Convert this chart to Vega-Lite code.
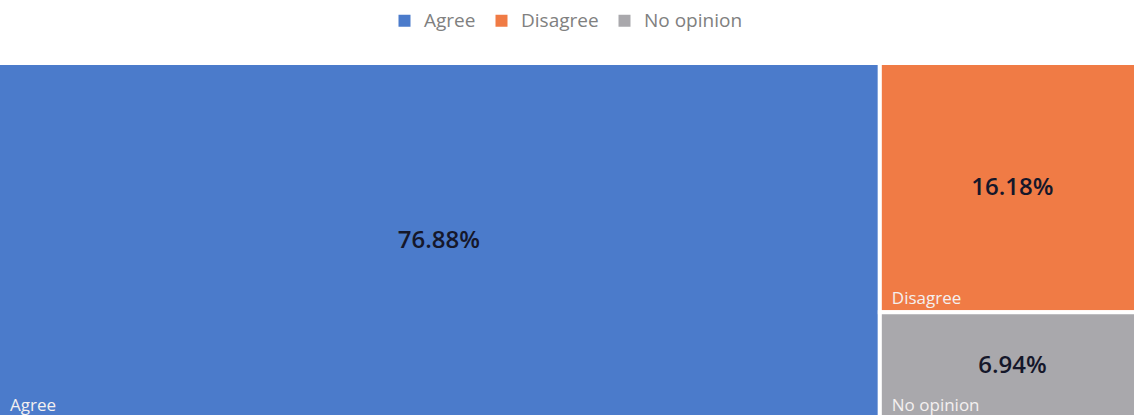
{
  "$schema": "https://vega.github.io/schema/vega-lite/v6.json",
  "autosize": "none",
  "width": 1147,
  "height": 356,
  "padding": {"top": 63, "left": -2, "right": 0, "bottom": 0},
  "background": "white",
  "config": {"view": {"stroke": null}},
  "data": {"values": [
    {"category": "Agree", "group": "A", "share": 0.7688},
    {"category": "Disagree", "group": "B", "share": 0.1618},
    {"category": "No opinion", "group": "B", "share": 0.0694}
  ]},
  "transform": [
    {"stack": "share", "groupby": [], "sort": [{"field": "group", "order": "ascending"}, {"field": "share", "order": "descending"}], "as": ["sx0", "sx1"]},
    {"joinaggregate": [{"op": "min", "field": "sx0", "as": "gx0"}, {"op": "max", "field": "sx1", "as": "gx1"}], "groupby": ["group"]},
    {"stack": "share", "groupby": ["group"], "offset": "normalize", "sort": [{"field": "share", "order": "ascending"}], "as": ["y0", "y1"]}
  ],
  "layer": [
    {
      "mark": {"type": "rect", "stroke": "white", "strokeWidth": 4},
      "encoding": {
        "x": {"field": "gx0", "type": "quantitative", "scale": {"domain": [0, 1], "nice": false, "zero": false}, "axis": null},
        "x2": {"field": "gx1"},
        "y": {"field": "y0", "type": "quantitative", "scale": {"domain": [0, 1], "nice": false}, "axis": null},
        "y2": {"field": "y1"},
        "color": {
          "field": "category", "type": "nominal",
          "scale": {"domain": ["Agree", "Disagree", "No opinion"], "range": ["#4B7BCB", "#F07B45", "#A9A8AC"]},
          "legend": {
            "title": null, "orient": "none", "direction": "horizontal",
            "legendX": 397, "legendY": -52,
            "symbolType": "square", "symbolSize": 144, "symbolStrokeWidth": 0,
            "labelFont": "Open Sans", "labelFontSize": 19, "labelColor": "#808080",
            "columnPadding": 16, "labelOffset": 10
          }
        }
      }
    },
    {
      "transform": [
        {"fold": ["gx0", "gx1"], "as": ["kx", "xv"]},
        {"fold": ["y0", "y1"], "as": ["ky", "yv"]}
      ],
      "mark": {"type": "text", "font": "Open Sans", "fontSize": 24, "fontWeight": 600, "color": "#15172a", "align": "center", "baseline": "middle"},
      "encoding": {
        "x": {"aggregate": "mean", "field": "xv", "type": "quantitative"},
        "y": {"aggregate": "mean", "field": "yv", "type": "quantitative"},
        "text": {"field": "share", "type": "quantitative", "format": ".2%"}
      }
    },
    {
      "mark": {"type": "text", "font": "Open Sans", "fontSize": 17, "color": "#f4f0f0", "align": "left", "baseline": "bottom", "dx": 12, "dy": -4},
      "encoding": {
        "x": {"field": "gx0", "type": "quantitative"},
        "y": {"field": "y0", "type": "quantitative"},
        "text": {"field": "category", "type": "nominal"}
      }
    }
  ]
}
